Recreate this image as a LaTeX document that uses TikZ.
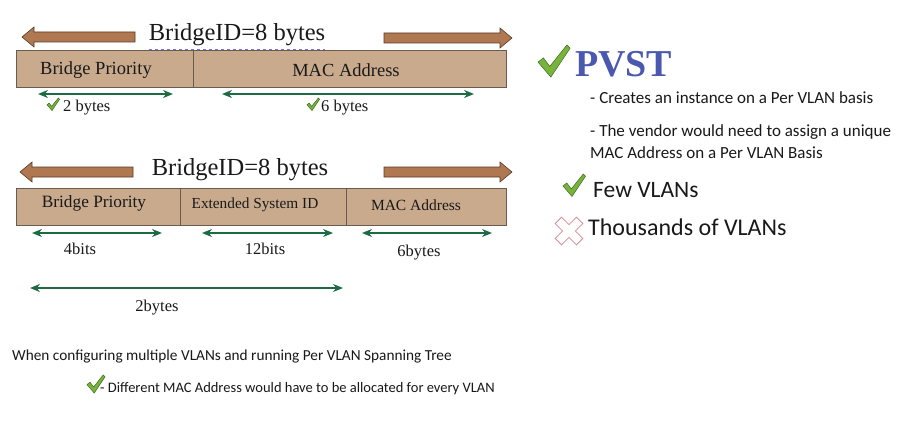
\documentclass[tikz,border=0pt]{standalone}
\usepackage{fontspec}
\setmainfont{Liberation Serif}
\newfontfamily\hand{Carlito}
\usepackage{tikz}
\usetikzlibrary{arrows.meta}
\definecolor{arrowbrown}{HTML}{B07850}
\definecolor{arrowedge}{HTML}{5A3A28}
\definecolor{bartan}{HTML}{C9AA8D}
\definecolor{baredge}{HTML}{6B5A4E}
\definecolor{dimgreen}{HTML}{1D6B45}
\definecolor{checkgreen}{HTML}{78B43C}
\definecolor{checkedge}{HTML}{3D6A20}
\definecolor{pvstblue}{HTML}{4A58B0}
\definecolor{crosspink}{HTML}{D78A98}
\tikzset{
  barrow/.style={fill=arrowbrown, draw=arrowedge, line width=0.6pt},
  field/.style={fill=bartan, draw=baredge, line width=0.8pt},
  dimarr/.style={{Stealth[length=10pt,width=8pt]}-{Stealth[length=10pt,width=8pt]}, line width=2pt, draw=dimgreen},
  lbl/.style={inner sep=0pt, text=black!90}
}
\def\tick(#1,#2)[#3]{\draw[line width=0.5pt, draw=checkedge, fill=checkgreen, shift={(#1,#2)}, scale=#3] (0,16) -- (5,12) -- (11,20) -- (27,0) -- (30,3) -- (12,30) -- cycle;}
\def\leftarr(#1,#2,#3){\draw[barrow] (#1,#3) -- (#1+12,#3-10) -- (#1+12,#3-5) -- (#2,#3-5) -- (#2,#3+5) -- (#1+12,#3+5) -- (#1+12,#3+10) -- cycle;}
\def\rightarr(#1,#2,#3){\draw[barrow] (#2,#3) -- (#2-12,#3-10) -- (#2-12,#3-5) -- (#1,#3-5) -- (#1,#3+5) -- (#2-12,#3+5) -- (#2-12,#3+10) -- cycle;}

\begin{document}
\begin{tikzpicture}[x=1pt, y=-1pt]
			%%%%% START %%%%%
			\useasboundingbox[fill=white] (0,0) rectangle (901,425);

			% first BridgeID
			\leftarr(22,135,37)
			\rightarr(384,512,38)
			\node[lbl, font=\fontsize{24.5}{26}\selectfont] (title1) at (237,35) {BridgeID=8 bytes};
			\draw[blue!55, dashed, line width=0.7pt] ([yshift=-3pt]title1.south west) -- ([yshift=-3pt]title1.south east);

			\draw[field] (16,50) rectangle (506,87);
			\draw[baredge, line width=0.8pt] (193,50) -- (193,87);
			\node[lbl, font=\fontsize{18.5}{20}\selectfont] (bp1) at (96,70) {Bridge Priority};
			\node[lbl, font=\fontsize{18.5}{20}\selectfont] (mac1) at (346,70) {MAC Address};

			\coordinate (d1a) at (38,94);
			\coordinate (d1b) at (173,94);
			\coordinate (d2a) at (222,94);
			\coordinate (d2b) at (474,94);
			\draw[dimarr] (d1a) -- (d1b);
			\draw[dimarr] (d2a) -- (d2b);

			\tick(47,98)[0.42]
			\node[lbl, anchor=base west, font=\fontsize{16.5}{18}\selectfont] (lbl2b) at (63,111) {2 bytes};
			\tick(307,98)[0.42]
			\node[lbl, anchor=base west, font=\fontsize{16.5}{18}\selectfont] (lbl6b) at (321,111) {6 bytes};

			% second BridgeID
			\leftarr(20,133,172)
			\rightarr(384,512,172)
			\node[lbl, font=\fontsize{24.5}{26}\selectfont] (title2) at (240,170) {BridgeID=8 bytes};

			\draw[field] (16,188) rectangle (506,225);
			\draw[baredge, line width=0.8pt] (180,188) -- (180,225);
			\draw[baredge, line width=0.8pt] (346,188) -- (346,225);
			\node[lbl, font=\fontsize{17.3}{19}\selectfont] (bp2) at (94,203) {Bridge Priority};
			\node[lbl, font=\fontsize{15.3}{17}\selectfont] (esid2) at (255,205) {Extended System ID};
			\node[lbl, font=\fontsize{15.5}{17}\selectfont] (mac2) at (416,205) {MAC Address};

			\coordinate (d3a) at (32,233);
			\coordinate (d3b) at (162,233);
			\coordinate (d4a) at (202,233);
			\coordinate (d4b) at (333,233);
			\coordinate (d5a) at (362,233);
			\coordinate (d5b) at (492,233);
			\coordinate (d6a) at (30,288);
			\coordinate (d6b) at (343,288);
			\draw[dimarr] (d3a) -- (d3b);
			\draw[dimarr] (d4a) -- (d4b);
			\draw[dimarr] (d5a) -- (d5b);
			\draw[dimarr] (d6a) -- (d6b);

			\node[lbl, font=\fontsize{16.5}{18}\selectfont] (lbl4bits) at (80,249) {4bits};
			\node[lbl, font=\fontsize{16.5}{18}\selectfont] (lbl12bits) at (265,249) {12bits};
			\node[lbl, font=\fontsize{16.5}{18}\selectfont] (lbl6bytes) at (419,253) {6bytes};
			\node[lbl, font=\fontsize{16.5}{18}\selectfont] (lbl2bytes) at (157,308) {2bytes};

			% PVST
			\tick(538,45)[1.07]
			\node[lbl, anchor=base west, text=pvstblue, font=\fontsize{38}{40}\selectfont\bfseries] (pvst) at (575,77) {PVST};
			\node[lbl, anchor=base west, font=\hand\fontsize{17}{19}\selectfont] (pv1) at (590,103) {- Creates an instance on a Per VLAN basis};
			\node[lbl, anchor=base west, font=\hand\fontsize{17}{19}\selectfont] (pv2) at (590,136) {- The vendor would need to assign a unique};
			\node[lbl, anchor=base west, font=\hand\fontsize{17}{19}\selectfont] (pv2b) at (590,158) {MAC Address on a Per VLAN Basis};

			\tick(563,174)[0.75]
			\node[lbl, anchor=base west, font=\hand\fontsize{23.5}{25}\selectfont] (few) at (593,197) {Few VLANs};

			\draw[crosspink, line width=0.8pt, shift={(569,231)}, rotate=45] (4.5,15) -- (4.5,4.5) -- (15,4.5) -- (15,-4.5) -- (4.5,-4.5) -- (4.5,-15) -- (-4.5,-15) -- (-4.5,-4.5) -- (-15,-4.5) -- (-15,4.5) -- (-4.5,4.5) -- (-4.5,15) -- cycle;
			\node[lbl, anchor=base west, font=\hand\fontsize{24}{26}\selectfont] (thou) at (588,235) {Thousands of VLANs};

			% bottom note
			\node[lbl, anchor=base west, font=\hand\fontsize{15.3}{17}\selectfont] (when) at (12,360) {When configuring multiple VLANs and running Per VLAN Spanning Tree};
			\tick(87,375)[0.6]
			\node[lbl, anchor=base west, font=\hand\fontsize{14.5}{16}\selectfont] (diff) at (100,392) {- Different MAC Address would have to be allocated for every VLAN};

			%%%%% END %%%%%
\end{tikzpicture}
\end{document}
